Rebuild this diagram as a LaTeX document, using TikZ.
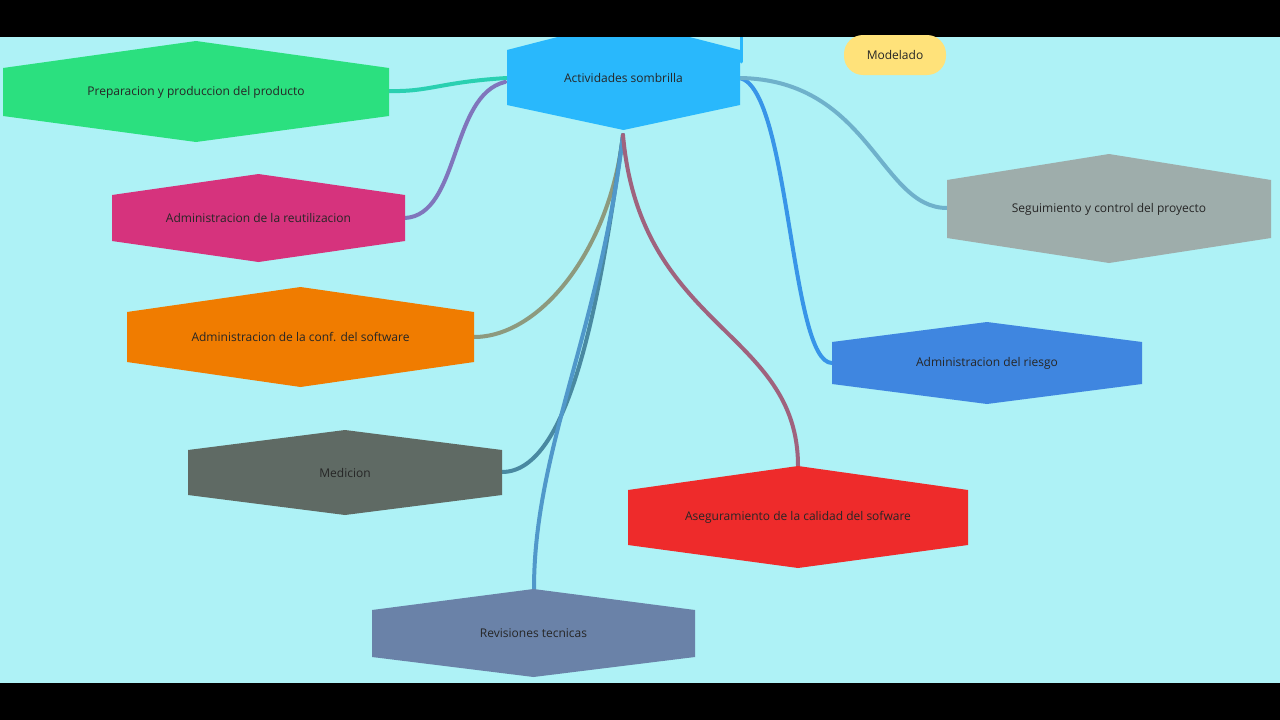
\documentclass[tikz,border=0pt]{standalone}
\usepackage{fontspec}
\setmainfont{Open Sans}
\begin{document}
\begin{tikzpicture}[x=1pt,y=-1pt,
  lbl/.style={font=\fontsize{12}{14}\selectfont, text=black!85},
  con/.style={line width=4pt, line cap=round}]
\definecolor{bg}{RGB}{174,242,246}
\definecolor{cSom}{RGB}{41,184,252}
\definecolor{cPrep}{RGB}{43,224,127}
\definecolor{cReu}{RGB}{214,51,125}
\definecolor{cConf}{RGB}{240,124,0}
\definecolor{cMed}{RGB}{95,106,100}
\definecolor{cRev}{RGB}{106,130,168}
\definecolor{cAse}{RGB}{238,43,43}
\definecolor{cRie}{RGB}{63,134,224}
\definecolor{cSeg}{RGB}{158,173,171}
\definecolor{cMod}{RGB}{255,226,122}
\useasboundingbox (0,0) rectangle (1280,720);
\fill[black] (0,0) rectangle (1280,720);
\fill[bg] (0,37) rectangle (1280,683);
% hexagon: name, left, right, peaktop, sidetop, sidebottom, peakbottom, color, text
\newcommand{\hexn}[9]{%
  \fill[#8] (#2,#4) -- ({(#2+#3)/2},#3*0+#5) -- (#3,#4) -- (#3,#6) -- ({(#2+#3)/2},#7) -- (#2,#6) -- cycle;
  \node[lbl] (#1) at ({(#2+#3)/2},{(#4+#6)/2}) {#9};}
\begin{scope}
\clip (0,37) rectangle (1280,683);
% connectors
\coordinate (up) at (741,30);
\draw[con,cSom,line width=3pt] (741,62) -- (up);
\draw[con,cPrep!60!cSom] (507,78) .. controls (440,82) and (430,92) .. (389,91);
\draw[con,cReu!50!cSom] (505,82) .. controls (450,95) and (460,215) .. (405,218);
\draw[con,cConf!50!cSom] (623,135) .. controls (610,250) and (540,337) .. (474,337);
\draw[con,cMed!60!cSom] (623,135) .. controls (600,300) and (570,472) .. (502,472);
\draw[con,cRev!60!cSom] (623,135) .. controls (600,330) and (534,450) .. (534,589);
\draw[con,cAse!60!cSom] (623,135) .. controls (640,330) and (798,330) .. (798,466);
\draw[con,cRie!70!cSom] (740,78) .. controls (790,90) and (790,363) .. (832,363);
\draw[con,cSeg!60!cSom] (740,78) .. controls (870,80) and (880,208) .. (947,208);
\end{scope}
\hexn{som}{507}{740}{50}{20}{105}{130}{cSom}{Actividades sombrilla}
\hexn{prep}{3}{389}{68}{41}{116}{142}{cPrep}{Preparacion y produccion del producto}
\hexn{reu}{112}{405}{195}{174}{241}{262}{cReu}{Administracion de la reutilizacion}
\hexn{conf}{127}{474}{312}{287}{362}{387}{cConf}{Administracion de la conf. del software}
\hexn{med}{188}{502}{450}{430}{495}{515}{cMed}{Medicion}
\hexn{rev}{372}{695}{610}{589}{657}{677}{cRev}{Revisiones tecnicas}
\hexn{ase}{628}{968}{490}{466}{545}{568}{cAse}{Aseguramiento de la calidad del sofware}
\hexn{rie}{832}{1142}{342}{322}{384}{404}{cRie}{Administracion del riesgo}
\hexn{seg}{947}{1271}{180}{154}{238}{263}{cSeg}{Seguimiento y control del proyecto}
\fill[black] (0,0) rectangle (1280,37);
\node[lbl,fill=cMod,rounded corners=19pt,minimum width=102pt,minimum height=40pt] (mod) at (895,55) {Modelado};
\end{tikzpicture}
\end{document}
